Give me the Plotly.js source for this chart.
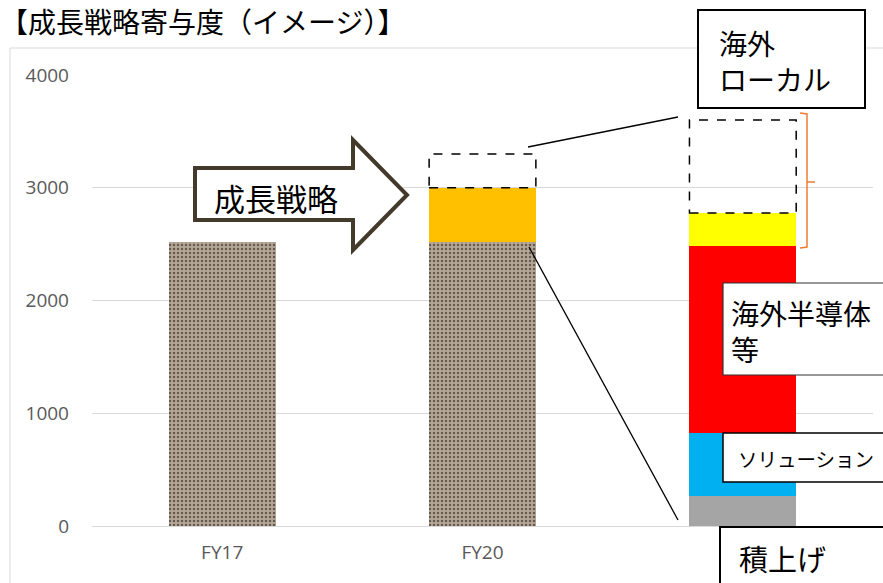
<!DOCTYPE html>
<html>
<head>
<meta charset="utf-8">
<script src="https://cdn.plot.ly/plotly-3.0.1.min.js"></script>
<style>html,body{margin:0;padding:0;background:#fff;}#chart{width:883px;height:583px;}</style>
</head>
<body>
<div id="chart"></div>
<script>
// ---- data ----
const categories = ['FY17', 'FY20', '目標'];
const tickLabels = ['FY17', 'FY20', ''];
const baseValues = [2520, 2520, null];      // 既存（テクスチャ）
const growthValues = [null, 480, null];     // 成長戦略（オレンジ）
const stackValues = [null, null, 270];      // 積上げ（グレー）
const solutionValues = [null, null, 555];   // ソリューション（青）
const semiValues = [null, null, 1660];      // 海外半導体等（赤）
const localValues = [null, null, 290];      // 海外ローカル（黄）
const dashedBase = [null, 3000, 2775];      // 点線枠 下端
const dashedTop = [null, 3300, 3600];       // 点線枠 上端
const yTicks = [0, 1000, 2000, 3000, 4000];

// ---- layout helpers ----
const W = 883, H = 583;
const M = {l: 92, r: 10, t: 75, b: 57};
const PW = W - M.l - M.r, PH = H - M.t - M.b;
const px = x => (x - M.l) / PW;
const py = y => (H - M.b - y) / PH;
const barWidth = 0.41;
const jpFont = '"Noto Sans CJK JP", "Noto Sans", sans-serif';
const numFont = '"Open Sans", sans-serif';

function bar(vals, color, name, extra) {
  return Object.assign({
    type: 'bar', x: categories, y: vals, name: name, width: barWidth,
    marker: {color: color, line: {width: 0}}, hoverinfo: 'skip'
  }, extra || {});
}

const traces = [
  bar(baseValues, '#aa9c8e', '既存', {marker: {color: '#aa9c8e', line: {width: 0},
    pattern: {shape: '.', fgcolor: '#66594e', bgcolor: '#b5a798', size: 4, solidity: 0.3}}}),
  bar(growthValues, '#ffc000', '成長戦略'),
  bar(stackValues, '#a5a5a5', '積上げ'),
  bar(solutionValues, '#00b0f0', 'ソリューション'),
  bar(semiValues, '#ff0000', '海外半導体等'),
  bar(localValues, '#ffff00', '海外ローカル')
];

const shapes = [];
// chart-area border
shapes.push({type: 'line', xref: 'paper', yref: 'paper', x0: px(10), x1: px(10), y0: py(48), y1: py(600), line: {color: '#d9d9d9', width: 1}, layer: 'below'});
shapes.push({type: 'line', xref: 'paper', yref: 'paper', x0: px(10), x1: px(900), y0: py(48), y1: py(48), line: {color: '#d9d9d9', width: 1}, layer: 'below'});

// dashed boxes from data
categories.forEach((c, i) => {
  if (dashedBase[i] == null) return;
  shapes.push({type: 'rect', xref: 'x', yref: 'y', x0: i - barWidth / 2, x1: i + barWidth / 2,
    y0: dashedBase[i], y1: dashedTop[i], line: {color: '#000', width: 1.5, dash: 'dash'}, fillcolor: 'rgba(0,0,0,0)'});
});

function pathFrom(points) {
  return 'M' + points.map(p => px(p[0]).toFixed(5) + ',' + py(p[1]).toFixed(5)).join(' L') + ' Z';
}
// block arrow
shapes.push({type: 'path', xref: 'paper', yref: 'paper',
  path: pathFrom([[195,168],[353,168],[353,140],[407,195],[353,250],[353,220],[195,220]]),
  fillcolor: '#ffffff', line: {color: '#433a2c', width: 4}});
// connector lines
shapes.push({type: 'line', xref: 'paper', yref: 'paper', x0: px(528), y0: py(147), x1: px(678), y1: py(117), line: {color: '#000', width: 1.3}});
shapes.push({type: 'line', xref: 'paper', yref: 'paper', x0: px(529), y0: py(247), x1: px(678), y1: py(520), line: {color: '#000', width: 1.3}});
// orange bracket
shapes.push({type: 'path', xref: 'paper', yref: 'paper',
  path: 'M' + px(800) + ',' + py(113) + ' L' + px(807) + ',' + py(114) + ' L' + px(807) + ',' + py(247) + ' L' + px(800) + ',' + py(248),
  line: {color: '#ed7d31', width: 1.5}});
shapes.push({type: 'line', xref: 'paper', yref: 'paper', x0: px(807), y0: py(182), x1: px(815), y1: py(182), line: {color: '#ed7d31', width: 1.5}});
// label boxes
function box(x0, y0, x1, y1, w, col) {
  shapes.push({type: 'rect', xref: 'paper', yref: 'paper', x0: px(x0), x1: px(x1), y0: py(y1), y1: py(y0),
    fillcolor: '#ffffff', line: {color: col || '#000', width: w}});
}
box(698, 10, 865, 108, 2);
box(723, 283, 900, 375, 1.2, '#333');
box(723, 433, 900, 482, 1.5);
box(720, 527, 900, 600, 2);

function note(text, x, y, size) {
  return {text: text, xref: 'paper', yref: 'paper', x: px(x), y: py(y), xanchor: 'left', yanchor: 'middle',
    align: 'left', showarrow: false, font: {family: jpFont, size: size, color: '#000'}};
}
const annotations = [
  note('海外<br>ローカル', 717, 61, 28),
  note('成長戦略', 212, 197, 31),
  note('海外半導体<br>等', 729, 331, 28),
  note('ソリューション', 736, 458, 19.5),
  note('積上げ', 737, 558, 29)
];

const layout = {
  width: W, height: H, margin: M,
  paper_bgcolor: '#fff', plot_bgcolor: '#fff',
  barmode: 'stack', showlegend: false, hovermode: false,
  title: {text: '【成長戦略寄与度（イメージ）】', x: 0, xref: 'container', xanchor: 'left', y: 1 - 23 / H, yanchor: 'middle',
    pad: {l: 0}, font: {family: jpFont, size: 28, color: '#000'}},
  xaxis: {type: 'category', tickvals: categories, ticktext: tickLabels, showgrid: false, zeroline: false,
    showline: false, ticks: '', ticklabelstandoff: 13, tickfont: {family: numFont, size: 19, color: '#595959'},
    range: [-0.5, 2.5]},
  yaxis: {range: [0, 4000], tickvals: yTicks, showgrid: true, gridcolor: '#d9d9d9', gridwidth: 1, zeroline: true, zerolinecolor: '#d9d9d9',
    zerolinewidth: 1, showline: false, ticks: '', ticklabelstandoff: 22, tickfont: {family: numFont, size: 19, color: '#595959'}},
  shapes: shapes,
  annotations: annotations
};
Plotly.newPlot('chart', traces, layout, {displayModeBar: false, staticPlot: true});
</script>
</body>
</html>
